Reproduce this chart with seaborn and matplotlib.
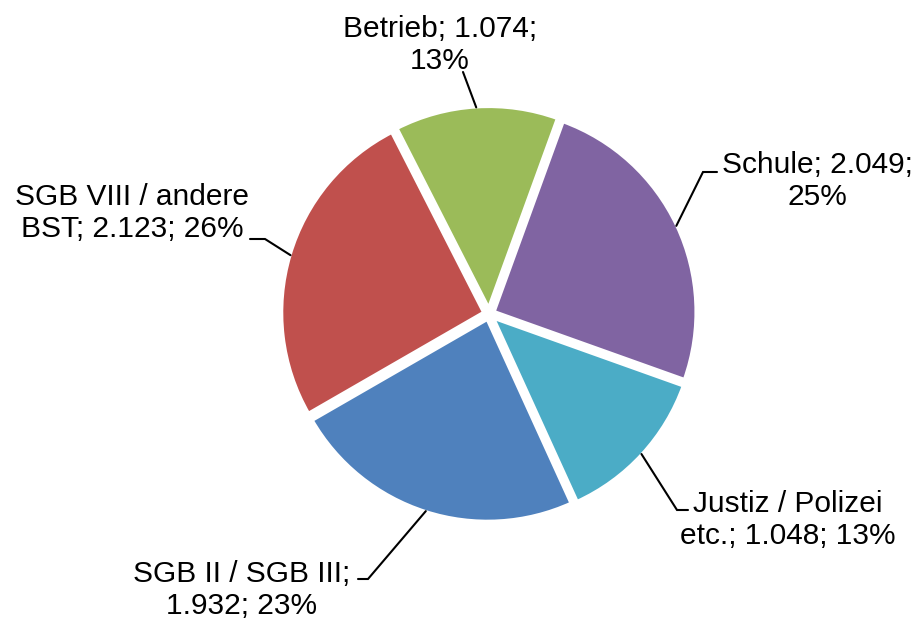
import numpy as np
import seaborn as sns
import matplotlib
matplotlib.use("Agg")
import matplotlib.pyplot as plt

# Data (in Excel series order, drawn clockwise)
categories = ["SGB II / SGB III", "SGB VIII / andere\nBST", "Betrieb", "Schule", "Justiz / Polizei\netc."]
values = [1932, 2123, 1074, 2049, 1048]
colors = ["#4F81BD", "#C0504D", "#9BBB59", "#8064A2", "#4BACC6"]
sep_name = ["\n", " ", " ", " ", " "]
sep_pct = [" ", " ", "\n", "\n", " "]

sns.set_style("white")
plt.rcParams["font.family"] = ["Liberation Sans", "DejaVu Sans"]

W, H = 918, 621
fig = plt.figure(figsize=(W / 100, H / 100), dpi=100)
ax = fig.add_axes([0, 0, 1, 1])
ax.axis("off")

cx, cy, R = 489, H - 314, 203
start = -65.5
total = sum(values)

# explode is in data units here (axes are in pixels)
wedges, _ = ax.pie(values, colors=colors, startangle=start, counterclock=False,
                   center=(cx, cy), radius=R, explode=[5] * 5,
                   wedgeprops=dict(edgecolor="white", linewidth=3))
ax.set_xlim(0, W)
ax.set_ylim(0, H)
ax.set_aspect("equal")

# label layout (image pixel coords, y downward): elbow, end of horizontal, text centre
elbows = [(368, 579), (265, 239), (463, 72), (703, 172), (677, 510)]
ends = [(358, 579), (250, 239), (463, 72), (717, 172), (688, 510)]
text_pos = [(242, 590), (132, 213), (440, 45), (817, 181), (788, 520)]

for i, w in enumerate(wedges):
    mid = np.deg2rad((w.theta1 + w.theta2) / 2)
    wx, wy = w.center
    sx = wx + (R - 1) * np.cos(mid)
    sy = wy + (R - 1) * np.sin(mid)
    ex, ey = elbows[i]
    hx, hy = ends[i]
    ax.plot([sx, ex, hx], [sy, H - ey, H - hy], color="black", lw=1.5,
            solid_joinstyle="miter")
    val = f"{values[i]:,}".replace(",", ".")
    pct = f"{round(values[i] / total * 100)}%"
    label = f"{categories[i]};{sep_name[i]}{val};{sep_pct[i]}{pct}"
    tx, ty = text_pos[i]
    ax.text(tx, H - ty, label, ha="center", va="center", multialignment="center",
            fontsize=21.5, color="black", linespacing=1.15)

fig.savefig("out.png", dpi=100)
